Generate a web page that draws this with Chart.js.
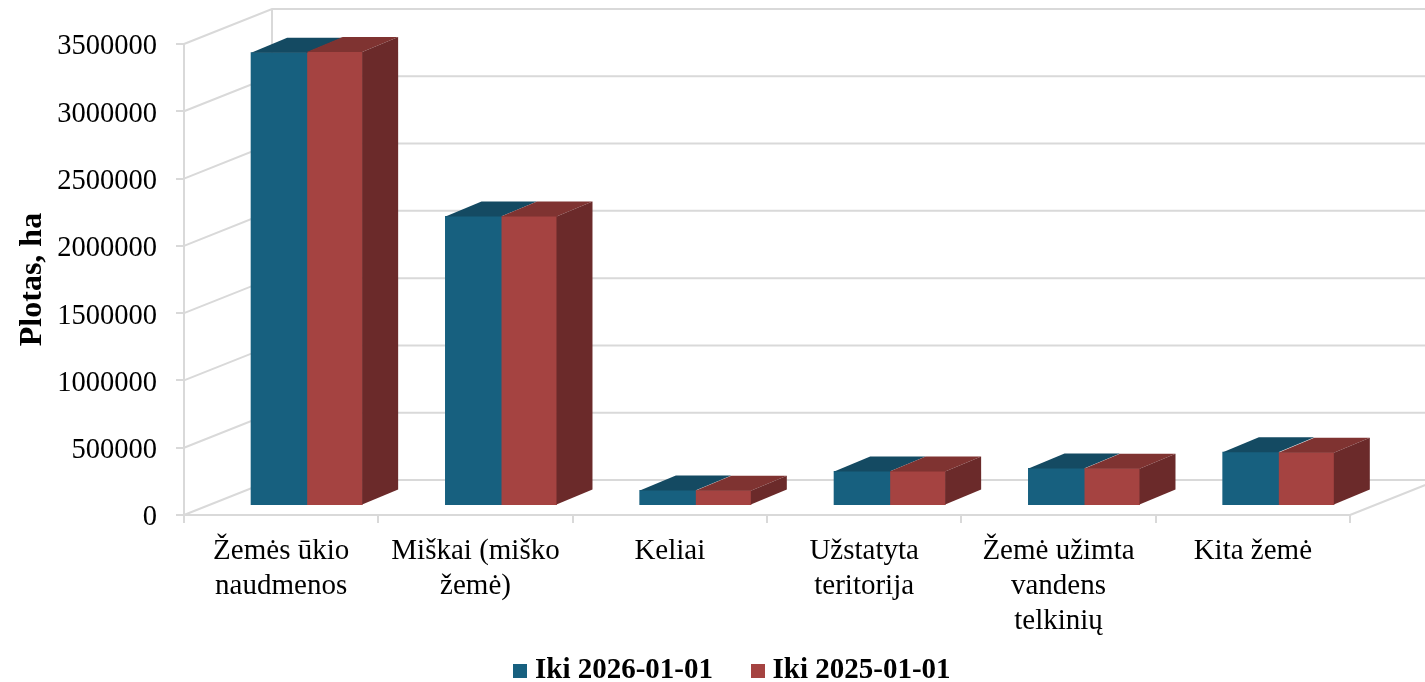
<!DOCTYPE html>
<html lang="lt">
<head>
<meta charset="utf-8">
<title>Plotas, ha</title>
<script src="https://cdn.jsdelivr.net/npm/chart.js@4"></script>
<style>
    html, body { margin: 0; padding: 0; background: #ffffff; }
    canvas { display: block; }
</style>
</head>
<body>
<canvas id="chart" width="1425" height="682"></canvas>
<script>
const categories = [
    ['Žemės ūkio', 'naudmenos'],
    ['Miškai (miško', 'žemė)'],
    'Keliai',
    ['Užstatyta', 'teritorija'],
    ['Žemė užimta', 'vandens', 'telkinių'],
    'Kita žemė'
];
const seriesNames = ['Iki 2026-01-01', 'Iki 2025-01-01'];
const values2026 = [3365000, 2147000, 111000, 253000, 275000, 395000];
const values2025 = [3370000, 2147000, 110000, 252000, 274000, 392000];
const yMax = 3500000;
const yStep = 500000;

const FONT = '"Liberation Serif", "Times New Roman", serif';
const GRID = '#d9d9d9';
const BLUE = ['#17607f', '#144a62'];   // front, top
const RED = ['#a54341', '#7f3331', '#6b2a2a'];   // front, top, side

// perspective offsets of the Excel style 3D box
const WALL_X = 88, WALL_Y = 35;
const BAR_X = 25.5, BAR_Y = 9.5;
const DEPTH_X = 36, DEPTH_Y = 15;

function face(ctx, color, pts) {
    ctx.fillStyle = color;
    ctx.beginPath();
    pts.forEach((p, i) => i ? ctx.lineTo(p[0], p[1]) : ctx.moveTo(p[0], p[1]));
    ctx.closePath();
    ctx.fill();
}

// legend square as an image, so the text can sit closer to it than Chart.js allows
function legendSquare(color) {
    const c = document.createElement('canvas');
    c.width = 14;
    c.height = 14;
    const g = c.getContext('2d');
    g.fillStyle = color;
    g.fillRect(0, 0, 14, 14);
    return c;
}

const box3d = {
    id: 'box3d',
    afterLayout(chart) {
        // the legend is not centred on the canvas in the original
        chart.legend.left += 60;
        chart.legend.right += 60;
        chart.legend.top += 13;
        chart.legend.bottom += 13;
        // x labels are clipped to the scale box, give them room over the legend padding
        chart.scales.x.bottom = 645;
    },
    beforeDatasetsDraw(chart) {
        const { ctx, scales: { x, y } } = chart;
        ctx.save();
        ctx.strokeStyle = GRID;
        ctx.lineWidth = 2;
        ctx.beginPath();
        y.ticks.forEach(t => {
            const py = y.getPixelForValue(t.value);
            ctx.moveTo(x.left, py);
            ctx.lineTo(x.left + WALL_X, py - WALL_Y);
            ctx.lineTo(chart.width, py - WALL_Y);
        });
        ctx.moveTo(x.left + WALL_X, y.top - WALL_Y);
        ctx.lineTo(x.left + WALL_X, y.bottom - WALL_Y);
        ctx.moveTo(x.right, y.bottom);
        ctx.lineTo(x.right + WALL_X, y.bottom - WALL_Y);
        ctx.stroke();
        ctx.restore();

        ctx.save();
        ctx.translate(BAR_X, -BAR_Y);
    },
    afterDatasetsDraw(chart) {
        const { ctx } = chart;
        chart.data.datasets.forEach((ds, di) => {
            chart.getDatasetMeta(di).data.forEach(bar => {
                const l = bar.x - bar.width / 2, r = bar.x + bar.width / 2;
                face(ctx, ds.topColor, [[l, bar.y], [r, bar.y], [r + DEPTH_X, bar.y - DEPTH_Y], [l + DEPTH_X, bar.y - DEPTH_Y]]);
                if (ds.sideColor) {
                    face(ctx, ds.sideColor, [[r, bar.y], [r + DEPTH_X, bar.y - DEPTH_Y], [r + DEPTH_X, bar.base - DEPTH_Y], [r, bar.base]]);
                }
            });
        });
        ctx.restore();
    }
};

new Chart(document.getElementById('chart'), {
    type: 'bar',
    plugins: [box3d],
    data: {
        labels: categories,
        datasets: [
            { label: seriesNames[0], data: values2026, backgroundColor: BLUE[0], topColor: BLUE[1], clip: false },
            { label: seriesNames[1], data: values2025, backgroundColor: RED[0], topColor: RED[1], sideColor: RED[2], clip: false }
        ]
    },
    options: {
        responsive: false,
        animation: false,
        categoryPercentage: 0.571,
        barPercentage: 1,
        inflateAmount: 0.5,
        layout: { padding: { top: 44, right: 75, left: 0, bottom: 0 } },
        plugins: {
            tooltip: { enabled: false },
            legend: {
                position: 'bottom',
                labels: {
                    color: '#000000',
                    usePointStyle: true,
                    pointStyleWidth: 1,
                    padding: 44,
                    font: { family: FONT, size: 29, weight: 'bold' },
                    generateLabels(chart) {
                        const items = Chart.defaults.plugins.legend.labels.generateLabels(chart);
                        items.forEach(item => { item.pointStyle = legendSquare(item.fillStyle); });
                        return items;
                    }
                }
            }
        },
        scales: {
            x: {
                afterFit(scale) { scale.height = 84; },
                grid: { drawOnChartArea: false, color: GRID, lineWidth: 2, tickLength: 8 },
                border: { color: GRID, width: 2 },
                ticks: {
                    color: '#000000',
                    maxRotation: 0,
                    autoSkip: false,
                    padding: 11,
                    font: { family: FONT, size: 29 }
                }
            },
            y: {
                min: 0,
                max: yMax,
                afterFit(scale) { scale.width = 184; },
                grid: { drawOnChartArea: false, color: GRID, lineWidth: 2, tickLength: 8 },
                border: { color: GRID, width: 2 },
                ticks: {
                    stepSize: yStep,
                    color: '#000000',
                    padding: 19,
                    labelOffset: 3,
                    font: { family: FONT, size: 28.5 },
                    callback: value => String(value)
                },
                title: {
                    display: true,
                    text: 'Plotas, ha',
                    color: '#000000',
                    padding: { top: 14, bottom: 0 },
                    font: { family: FONT, size: 32, weight: 'bold' }
                }
            }
        }
    }
});
</script>
</body>
</html>
